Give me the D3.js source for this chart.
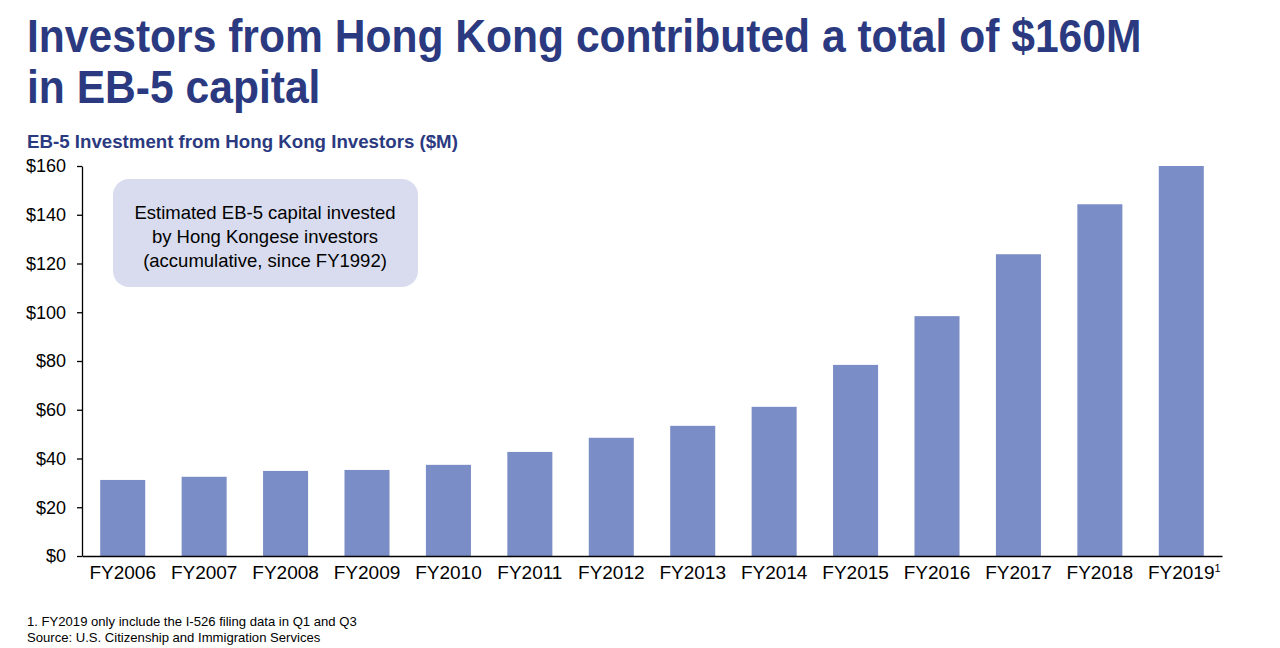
<!DOCTYPE html>
<html>
<head>
<meta charset="utf-8">
<script src="https://cdn.jsdelivr.net/npm/d3@7"></script>
<style>
  body { margin: 0; background: #fff; }
  svg { font-family: Arial, "Liberation Sans", sans-serif; }
</style>
</head>
<body>
<div class="chart"></div>
<script>
// data
const years = ['FY2006','FY2007','FY2008','FY2009','FY2010','FY2011','FY2012',
               'FY2013','FY2014','FY2015','FY2016','FY2017','FY2018','FY2019'];
const investment = [31.2, 32.5, 34.9, 35.3, 37.4, 42.7, 48.5,
                    53.4, 61.2, 78.4, 98.4, 123.8, 144.3, 160];
const yTicks = [0, 20, 40, 60, 80, 100, 120, 140, 160];
const titleLines = ['Investors from Hong Kong contributed a total of $160M', 'in EB-5 capital'];
const boxLines = ['Estimated EB-5 capital invested', 'by Hong Kongese investors', '(accumulative, since FY1992)'];
const notes = ['1. FY2019 only include the I-526 filing data in Q1 and Q3',
               'Source: U.S. Citizenship and Immigration Services'];

const width = 1280;
const height = 648;
const navy = '#2b3a80';

const svg = d3.select('.chart')
	.append('svg')
	.attr('width', width)
	.attr('height', height);

// title (the original glyphs are slightly stretched vertically)
svg.selectAll('text.title')
	.data(titleLines)
	.enter()
	.append('text')
	.attr('class', 'title')
	.attr('transform', (d, i) => 'translate(27,' + (52 + i * 51) + ') scale(1,1.1)')
	.attr('font-size', '42.6px')
	.attr('font-weight', 'bold')
	.attr('fill', navy)
	.text(d => d);

svg.append('text')
	.attr('x', 27)
	.attr('y', 148)
	.attr('font-size', '18.7px')
	.attr('font-weight', 'bold')
	.attr('fill', navy)
	.text('EB-5 Investment from Hong Kong Investors ($M)');

const x = d3.scaleBand()
	.domain(years)
	.range([82, 1222])
	.paddingInner(0.447)
	.paddingOuter(0.2235);

const y = d3.scaleLinear()
	.domain([0, 160])
	.range([556, 166]);

// bars
svg.selectAll('rect.bar')
	.data(investment)
	.enter()
	.append('rect')
	.attr('class', 'bar')
	.attr('x', (d, i) => x(years[i]))
	.attr('y', d => y(d))
	.attr('width', x.bandwidth())
	.attr('height', d => y(0) - y(d))
	.attr('fill', '#7a8dc6');

// y axis
const yAxis = svg.append('g')
	.attr('transform', 'translate(82,0)')
	.call(d3.axisLeft(y).tickValues(yTicks).tickSize(5).tickSizeOuter(0).tickPadding(11)
		.tickFormat(d => '$' + d));
yAxis.selectAll('text').attr('font-size', '18px').attr('fill', '#000').attr('font-family', null);
yAxis.selectAll('line, path').attr('stroke', '#000').attr('stroke-width', 1.3);

// x axis
const xAxis = svg.append('g')
	.attr('transform', 'translate(0,556)')
	.call(d3.axisBottom(x).tickSize(0).tickSizeOuter(0).tickPadding(10));
xAxis.selectAll('path').attr('stroke', '#000').attr('stroke-width', 1.3);
xAxis.selectAll('text')
	.attr('font-size', '19px')
	.attr('fill', '#000')
	.attr('font-family', null)
	.attr('dy', '0.68em');
// footnote marker on the last label
xAxis.selectAll('text')
	.filter(d => d === 'FY2019')
	.append('tspan')
	.attr('font-size', '11px')
	.attr('dy', '-0.6em')
	.text('1');
xAxis.selectAll('text')
	.filter(d => d === 'FY2019')
	.attr('dx', '3px');

// callout box
svg.append('rect')
	.attr('x', 113)
	.attr('y', 179)
	.attr('width', 305)
	.attr('height', 108)
	.attr('rx', 16)
	.attr('fill', '#d8dcee');

svg.selectAll('text.box')
	.data(boxLines)
	.enter()
	.append('text')
	.attr('class', 'box')
	.attr('x', 265)
	.attr('y', (d, i) => 219 + i * 24)
	.attr('text-anchor', 'middle')
	.attr('font-size', '18.5px')
	.attr('fill', '#000')
	.text(d => d);

// notes
svg.selectAll('text.note')
	.data(notes)
	.enter()
	.append('text')
	.attr('class', 'note')
	.attr('x', 27)
	.attr('y', (d, i) => 626 + i * 16)
	.attr('font-size', '13.1px')
	.attr('fill', '#000')
	.text(d => d);
</script>
</body>
</html>
